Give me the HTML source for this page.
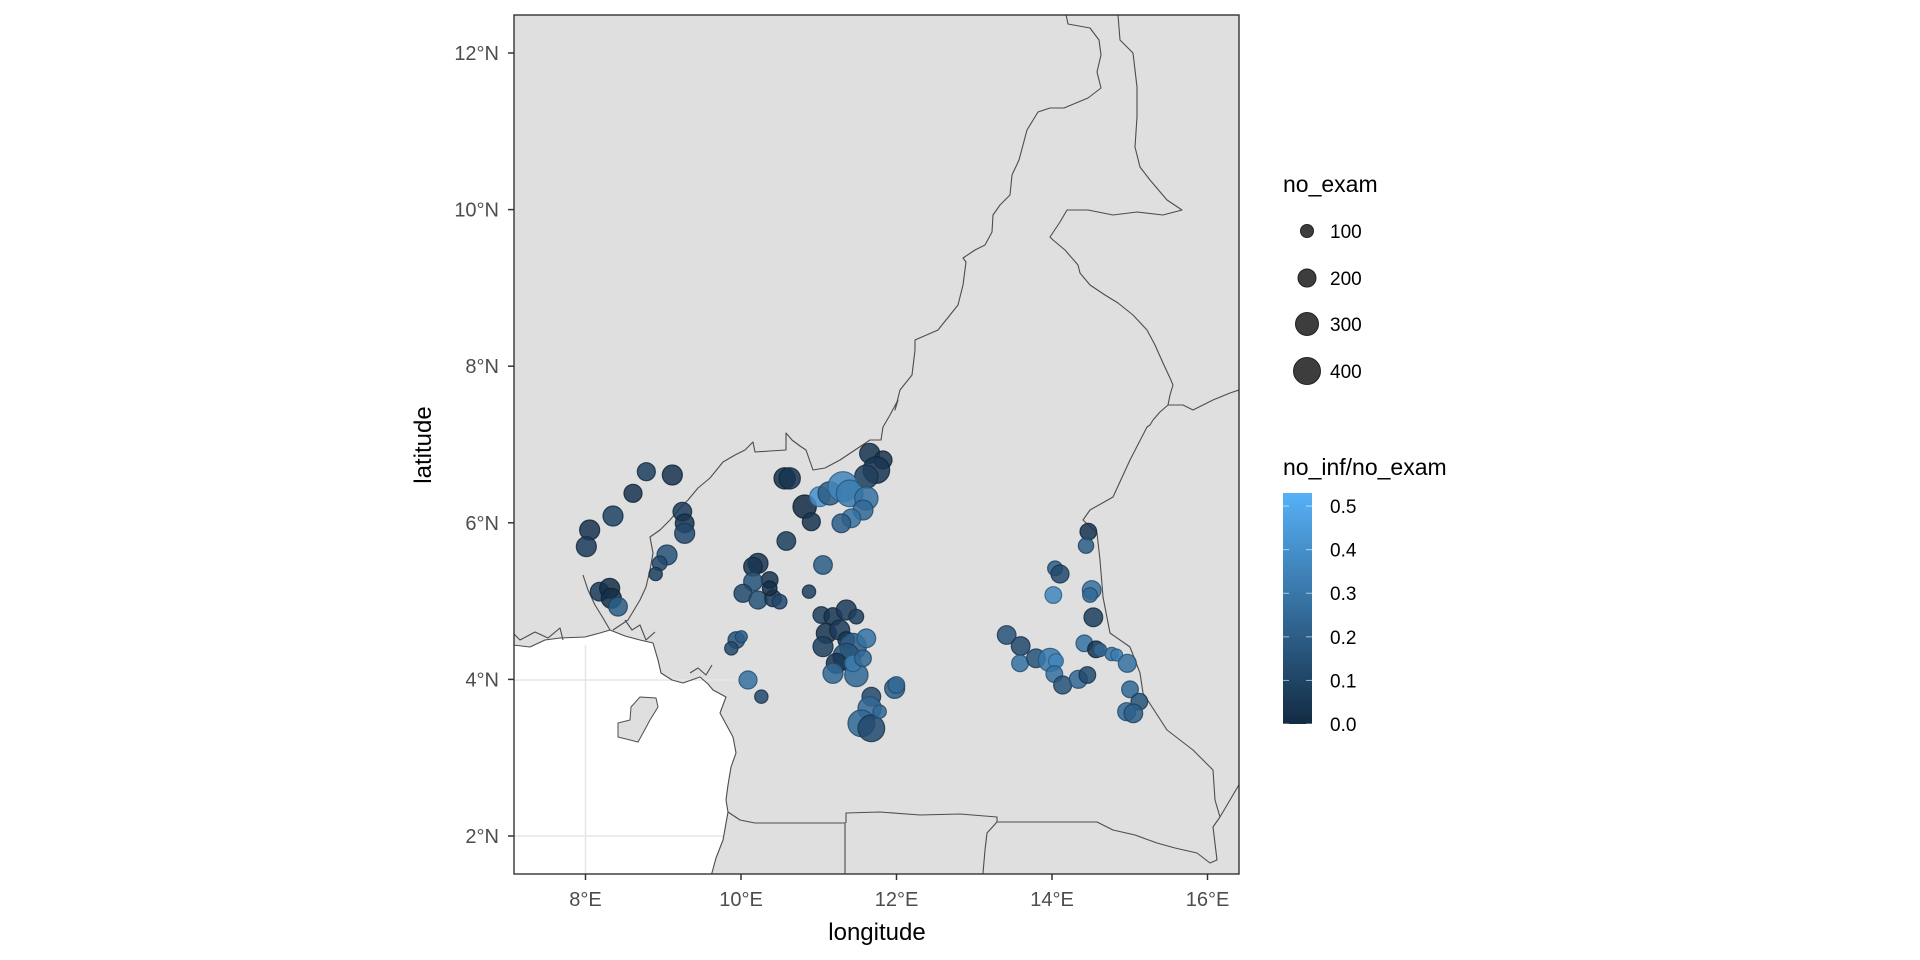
<!DOCTYPE html>
<html><head><meta charset="utf-8"><style>
html,body{margin:0;padding:0;background:#fff;}
svg{display:block;font-family:"Liberation Sans",Arial,sans-serif;}
</style></head><body>
<svg id="s" width="1920" height="960" viewBox="0 0 1920 960" xmlns="http://www.w3.org/2000/svg">
<defs>
<linearGradient id="cb" x1="0" y1="1" x2="0" y2="0">
<stop offset="0" stop-color="#132B43"/><stop offset="1" stop-color="#56B1F7"/>
</linearGradient>
<clipPath id="pc"><rect x="514" y="15" width="725" height="859"/></clipPath>
</defs>
<rect x="514" y="15" width="725" height="859" fill="#dfdfdf"/>
<g clip-path="url(#pc)">
<polygon fill="#ffffff" points="500,645 513,645 530,647 545,640 560,638 585,637 600,633 610,630 625,636 640,640 653,643 658,660 661,673 672,680 683,683 700,677 708,684 713,690 726,697 720,713 733,737 736,753 731,767 728,785 726,800 728,812 723,840 716,858 710,880 500,880"/>
<g stroke="#e6e6e6" stroke-width="1.5">
<line x1="585.5" y1="645" x2="585.5" y2="874"/>
<line x1="514" y1="680" x2="735" y2="680"/>
<line x1="514" y1="836" x2="728" y2="836"/>
</g>
<polygon fill="#dfdfdf" stroke="#4d4d4d" stroke-width="1" points="640,697 656,698 658,707 650,720 643,733 638,742 618,737 618,723 630,720 631,707"/>
<g fill="none" stroke="#4d4d4d" stroke-width="1.1" stroke-linejoin="round">
<polyline points="500,645 513,645 530,647 545,640 560,638 585,637 600,633 610,630 625,636 640,640 653,643 658,660 661,673 672,680 683,683 700,677 708,684 713,690 726,697 720,713 733,737 736,753 731,767 728,785 726,800 728,812 723,840 716,858 710,880"/>
<polyline points="513,633 520,640 535,632 548,638 560,628 563,640"/>
<polyline points="583,575 588,590 595,605 603,618 610,630"/>
<polyline points="625,620 632,630 640,625 646,640 655,632"/>
<polyline points="690,673 698,668 706,675 712,665"/>
<polyline points="613,630 628,620 640,600 646,587 650,570 653,553 650,537 660,530 670,520 680,508 688,500 698,488 710,478 723,462 735,455 745,450 753,442 755,452 770,451 786,450 786,433 792,440 800,446 806,450 813,470 825,468 840,460 855,450 870,440 881,440 883,427 890,415 898,400 895,410 900,390 912,375 915,350 915,340 938,330 950,315 958,305 963,285 966,262 963,258 975,250 985,245 992,232 993,215 1000,205 1010,195 1012,175 1019,160 1027,130 1038,112 1050,108 1064,108 1088,98 1101,88 1097,72 1101,55 1099,40 1090,28 1068,24 1065,10"/>
<polyline points="1118,10 1118,15 1120,40 1133,53 1137,87 1137,117 1135,147 1140,167 1150,180 1167,200 1182,210 1163,215 1137,212 1113,215 1088,210 1067,210 1060,222 1050,237 1053,240 1065,250 1078,265 1080,273 1090,285 1105,295 1118,303 1133,315 1147,330 1155,345 1163,363 1170,378 1173,385 1170,395 1168,405 1160,412 1153,420"/>
<polyline points="1168,405 1183,405 1193,410 1213,400 1230,393 1239,390 1245,388"/>
<polyline points="1153,420 1150,425 1147,427 1130,460 1113,497 1090,510 1083,520 1097,533 1100,560 1103,597 1110,633 1130,647 1140,673 1143,693 1167,730 1193,750 1213,770 1215,800 1220,817"/>
<polyline points="1220,817 1240,783 1250,765"/>
<polyline points="1220,817 1213,827 1217,860 1210,863 1197,853 1175,848 1157,843 1135,835 1113,830 1097,822 1060,822 997,822 987,833 985,850 983,873 985,880"/>
<polyline points="728,812 740,820 755,823 845,823 845,880"/>
<polyline points="846,823 846,813 880,812 920,815 960,814 997,817 997,822"/>
</g>
</g>
<g id="pts"></g>
<rect x="514" y="15" width="725" height="859" fill="none" stroke="#333333" stroke-width="1.4"/>
<g stroke="#333" stroke-width="1.5" id="ticks"></g>
<g fill="#4d4d4d" font-size="20" id="labs"></g>
<text x="877" y="940" font-size="24" text-anchor="middle" fill="#000">longitude</text>
<text transform="translate(431,445) rotate(-90)" font-size="24" text-anchor="middle" fill="#000">latitude</text>
<text x="1283" y="192" font-size="23" fill="#000">no_exam</text>
<g fill="#333" fill-opacity="0.95" stroke="#222" stroke-width="1">
<circle cx="1307" cy="231" r="6.5"/>
<circle cx="1307" cy="278" r="9"/>
<circle cx="1307" cy="324" r="11.5"/>
<circle cx="1307" cy="371" r="13.5"/>
</g>
<g font-size="19" fill="#000">
<text x="1330" y="238">100</text>
<text x="1330" y="285">200</text>
<text x="1330" y="331">300</text>
<text x="1330" y="378">400</text>
</g>
<text x="1283" y="475" font-size="23" fill="#000">no_inf/no_exam</text>
<rect x="1283" y="493" width="29" height="231" fill="url(#cb)"/>
<g stroke="#fff" stroke-opacity="0.6" stroke-width="1" id="cbt"></g>
<g font-size="19" fill="#000" id="cbl"></g>
</svg>
<script>
(function(){
var NS="http://www.w3.org/2000/svg";
function el(t,a,p){var e=document.createElementNS(NS,t);for(var k in a)e.setAttribute(k,a[k]);p.appendChild(e);return e;}
var ticks=document.getElementById('ticks'),labs=document.getElementById('labs');
for(var lon=8;lon<=16;lon+=2){var x=585.5+(lon-8)*77.75;el('line',{x1:x,y1:874,x2:x,y2:880},ticks);var t=el('text',{x:x,y:906,'text-anchor':'middle'},labs);t.textContent=lon+'°E';}
for(var lat=2;lat<=12;lat+=2){var y=836-(lat-2)*78.3;el('line',{x1:508,y1:y,x2:514,y2:y},ticks);var t2=el('text',{x:499,y:y+7,'text-anchor':'end'},labs);t2.textContent=lat+'°N';}
var c0=[0x13,0x2B,0x43],c1=[0x56,0xB1,0xF7],vmax=0.53;
function col(v,d){var f=Math.min(1,v/vmax);var c=c0.map(function(a,i){return Math.round((a+(c1[i]-a)*f)*(d||1));});return 'rgb('+c.join(',')+')';}
var cbt=document.getElementById('cbt'),cbl=document.getElementById('cbl');
for(var i=0;i<=5;i++){var v=i/10;var y=724-v/vmax*231;el('line',{x1:1283,y1:y,x2:1289,y2:y},cbt);el('line',{x1:1306,y1:y,x2:1312,y2:y},cbt);var t3=el('text',{x:1330,y:y+7},cbl);t3.textContent=v.toFixed(1);}
var W=[[400,215,27,0.1],[478,225,30,0.05],[360,280,27,0.05],[300,348,30,0.12],[230,390,30,0.05],[220,440,30,0.08],[508,335,28,0.08],[515,370,28,0.05],[515,400,30,0.15],[462,465,30,0.2],[440,490,22,0.15],[428,522,20,0.1],[260,575,28,0.08],[290,565,30,0.02],[295,595,30,0.02],[315,620,28,0.25],[815,235,32,0.02],[830,235,32,0.05],[875,320,35,0.0],[895,365,27,0.05],[820,423,28,0.1],[930,495,28,0.25],[888,575,20,0.1],[735,490,30,0.05],[720,500,28,0.05],[770,540,25,0.05],[720,545,28,0.2],[690,580,27,0.15],[735,600,27,0.2],[780,595,25,0.08],[800,605,22,0.15],[770,565,22,0.02],[1070,160,30,0.05],[1110,180,27,0.05],[1090,210,40,0.05],[1060,230,35,0.1],[920,290,30,0.5],[950,280,35,0.25],[990,260,45,0.45],[1010,280,40,0.4],[1060,295,35,0.35],[1050,330,30,0.3],[1015,355,28,0.35],[985,370,28,0.25],[925,645,25,0.1],[960,650,27,0.05],[1000,630,30,0.08],[1030,650,22,0.1],[940,700,30,0.05],[930,740,30,0.1],[980,690,30,0.08],[1000,720,25,0.05],[1020,740,40,0.25],[1060,715,28,0.35],[1000,770,40,0.2],[970,790,30,0.05],[1030,825,35,0.3],[960,820,30,0.3],[1020,790,25,0.4],[1050,775,25,0.3],[670,720,25,0.2],[685,710,18,0.25],[655,745,20,0.15],[705,840,27,0.35],[745,890,20,0.15],[1075,890,28,0.15],[1070,925,35,0.3],[1045,970,40,0.3],[1075,985,40,0.15],[1100,935,20,0.3],[1145,865,30,0.25],[1150,855,25,0.3]];
var E=[[925,395,25,0.05],[918,437,23,0.25],[825,505,22,0.25],[840,522,27,0.15],[820,585,25,0.45],[935,570,28,0.35],[930,585,22,0.3],[940,652,28,0.1],[680,705,28,0.2],[722,738,28,0.15],[720,790,25,0.35],[768,775,28,0.2],[810,780,35,0.38],[828,783,22,0.45],[823,822,25,0.35],[848,855,27,0.2],[895,838,27,0.3],[922,825,25,0.15],[913,730,25,0.35],[948,748,25,0.05],[960,750,20,0.3],[995,762,20,0.35],[1010,765,18,0.4],[1042,790,27,0.35],[1050,868,25,0.3],[1078,905,25,0.2],[1040,935,27,0.3],[1060,940,28,0.25]];
var g=document.getElementById('pts');
function draw(a,ox){a.forEach(function(p){var v=p[3]*0.8;el('circle',{cx:ox+p[0]/3,cy:400+p[1]/3,r:p[2]/3,fill:col(v),'fill-opacity':0.85,stroke:col(v,0.7),'stroke-opacity':0.85,'stroke-width':1.2},g);});}
draw(W,513);draw(E,780);
})();
</script>
</body></html>
